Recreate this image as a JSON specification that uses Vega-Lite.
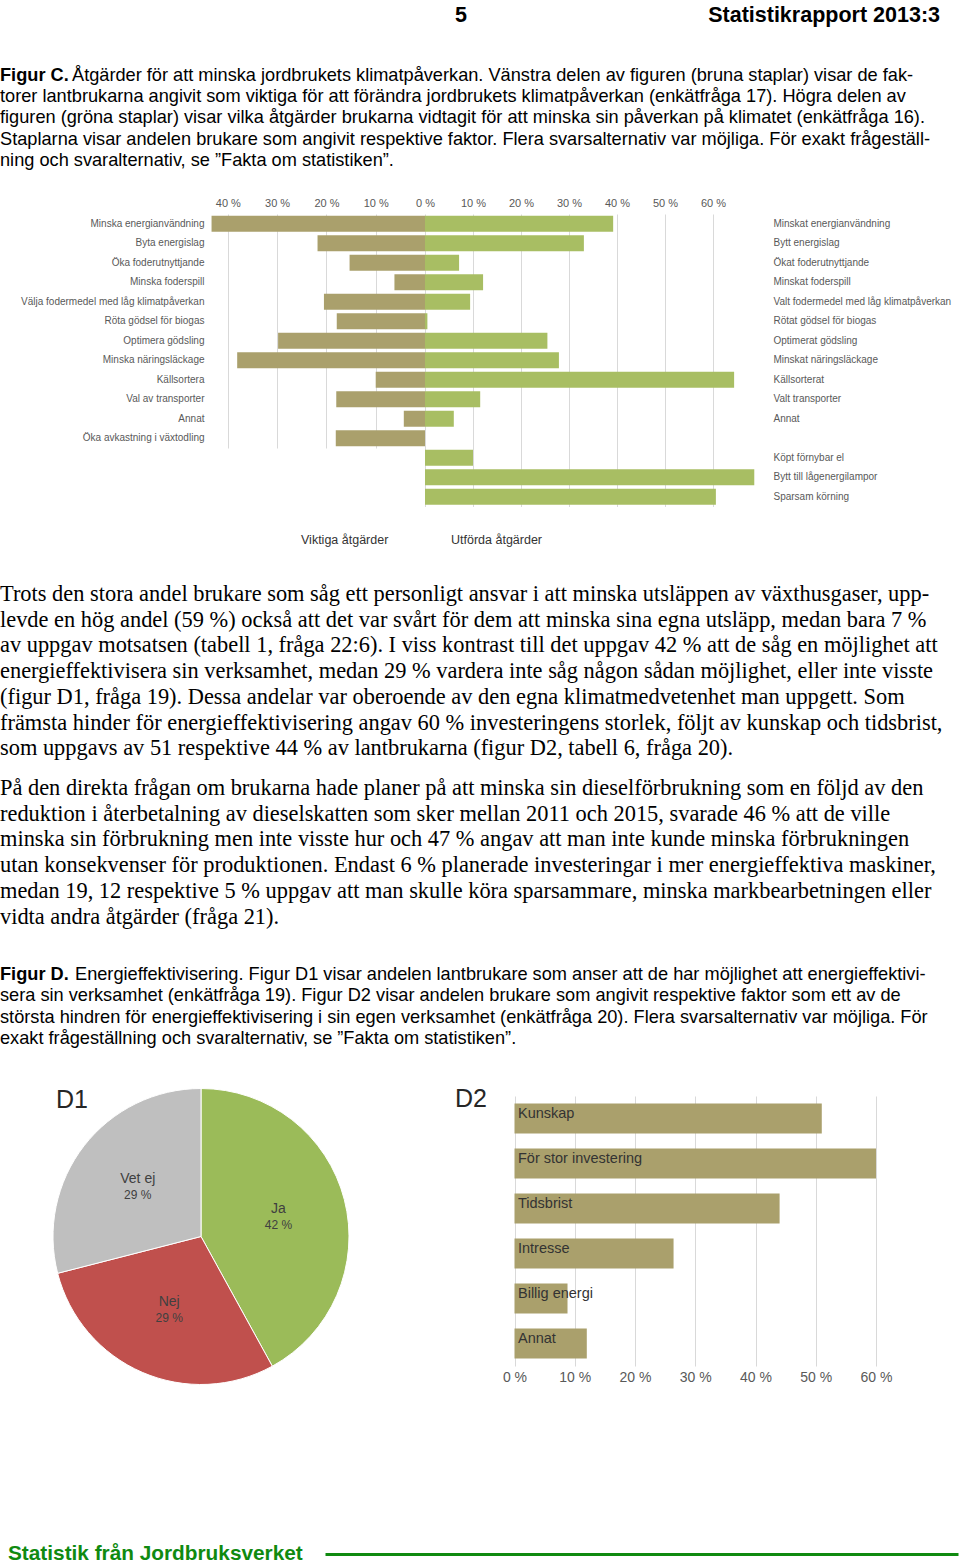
{
  "$schema": "https://vega.github.io/schema/vega-lite/v6.json",
  "background": "white",
  "padding": 0,
  "spacing": 0,
  "bounds": "flush",
  "config": {
    "view": {"stroke": null},
    "font": "Liberation Sans",
    "title": {"orient": "bottom", "anchor": "start", "frame": "bounds", "fontWeight": "normal", "color": "#000000", "font": "Liberation Sans"},
    "axis": {"domain": false, "ticks": false, "tickSize": 0, "gridColor": "#d9d9d9", "labelFont": "Liberation Sans", "labelColor": "#595959"}
  },
  "datasets": {
    "viktiga": [
      {"atgard": "Minska energianvändning", "andel": 43.3},
      {"atgard": "Byta energislag", "andel": 21.8},
      {"atgard": "Öka foderutnyttjande", "andel": 15.3},
      {"atgard": "Minska foderspill", "andel": 6.2},
      {"atgard": "Välja fodermedel med låg klimatpåverkan", "andel": 20.5},
      {"atgard": "Röta gödsel för biogas", "andel": 17.9},
      {"atgard": "Optimera gödsling", "andel": 29.8},
      {"atgard": "Minska näringsläckage", "andel": 38.1},
      {"atgard": "Källsortera", "andel": 10.0},
      {"atgard": "Val av transporter", "andel": 18.0},
      {"atgard": "Annat", "andel": 4.3},
      {"atgard": "Öka avkastning  i växtodling", "andel": 18.1}
    ],
    "utforda": [
      {"atgard": "Minskat energianvändning", "andel": 39.2},
      {"atgard": "Bytt energislag", "andel": 33.1},
      {"atgard": "Ökat foderutnyttjande", "andel": 7.1},
      {"atgard": "Minskat foderspill", "andel": 12.1},
      {"atgard": "Valt fodermedel med låg klimatpåverkan", "andel": 9.4},
      {"atgard": "Rötat gödsel för biogas", "andel": 0.5},
      {"atgard": "Optimerat gödsling", "andel": 25.5},
      {"atgard": "Minskat näringsläckage", "andel": 27.9},
      {"atgard": "Källsorterat", "andel": 64.4},
      {"atgard": "Valt transporter", "andel": 11.5},
      {"atgard": "Annat", "andel": 6.0},
      {"atgard": "Köpt förnybar el", "andel": 10.0},
      {"atgard": "Bytt till lågenergilampor", "andel": 68.6},
      {"atgard": "Sparsam körning", "andel": 60.6}
    ],
    "d1": [
      {"svar": "Ja", "andel": 42, "etikett": "42 %", "ordning": 1},
      {"svar": "Nej", "andel": 29, "etikett": "29 %", "ordning": 2},
      {"svar": "Vet ej", "andel": 29, "etikett": "29 %", "ordning": 3}
    ],
    "d2": [
      {"hinder": "Kunskap", "andel": 51},
      {"hinder": "För stor investering", "andel": 60},
      {"hinder": "Tidsbrist", "andel": 44},
      {"hinder": "Intresse", "andel": 26.4},
      {"hinder": "Billig energi", "andel": 8.8},
      {"hinder": "Annat", "andel": 12.0}
    ]
  },
  "vconcat": [
    {"width": 960, "height": 1, "data": {"values": []}, "mark": "rect",
     "title": {"text": "5", "offset": 4, "dx": 455, "fontWeight": "bold", "fontSize": 21.5}},
    {"width": 960, "height": 1, "data": {"values": []}, "mark": "rect",
     "title": {"text": "Statistikrapport 2013:3", "anchor": "end", "offset": 3, "dx": -20, "fontWeight": "bold", "fontSize": 21.5}},
    {"width": 960, "height": 1, "data": {"values": []}, "mark": "rect",
     "title": {"text": "Figur C.", "offset": 63.7, "fontWeight": "bold", "fontSize": 18.2}},
    {"width": 960, "height": 1, "data": {"values": []}, "mark": "rect",
     "title": {"text": "Åtgärder för att minska jordbrukets klimatpåverkan. Vänstra delen av figuren (bruna staplar) visar de fak-", "offset": 62.7, "dx": 72, "fontSize": 18.2}},
    {"width": 960, "height": 210, "data": {"values": []}, "mark": "rect",
     "title": {"text": [
       "torer lantbrukarna angivit som viktiga för att förändra jordbrukets klimatpåverkan (enkätfråga 17). Högra delen av",
       "figuren (gröna staplar) visar vilka åtgärder brukarna vidtagit för att minska sin påverkan på klimatet (enkätfråga 16).",
       "Staplarna visar andelen brukare som angivit respektive faktor. Flera svarsalternativ var möjliga. För exakt frågeställ-",
       "ning och svaralternativ, se ”Fakta om statistiken”."
     ], "offset": -126, "fontSize": 18.2, "lineHeight": 21.3}},
    {
      "width": 425, "height": 1,
      "data": {"name": "viktiga"},
      "mark": {"type": "bar", "color": "#aaa06c"},
      "encoding": {
        "y": {"field": "atgard", "type": "nominal", "sort": null, "title": null,
              "scale": {"range": [0, 234], "paddingInner": 0.18, "paddingOuter": 0.09},
              "axis": {"orient": "left", "labelFontSize": 10, "labelPadding": -204, "labelAlign": "right", "labelLimit": 300, "labelColor": "#595959"}},
        "x": {"field": "andel", "type": "quantitative", "title": null,
              "scale": {"domain": [0, 44], "range": [425, 208.1], "nice": false},
              "axis": {"orient": "top", "values": [10, 20, 30, 40], "labelExpr": "datum.value + ' %'", "grid": true, "labelFontSize": 11, "labelPadding": 6, "labelDx": 4, "labelFlush": false}}
      }
    },
    {
      "width": 761, "height": 1,
      "data": {"name": "utforda"},
      "mark": {"type": "bar", "color": "#a8be63"},
      "encoding": {
        "y": {"field": "atgard", "type": "nominal", "title": null,
              "scale": {"domain": ["Minskat energianvändning", "Bytt energislag", "Ökat foderutnyttjande", "Minskat foderspill", "Valt fodermedel med låg klimatpåverkan", "Rötat gödsel för biogas", "Optimerat gödsling", "Minskat näringsläckage", "Källsorterat", "Valt transporter", "Annat", " ", "Köpt förnybar el", "Bytt till lågenergilampor", "Sparsam körning"], "range": [-1, 291.5], "paddingInner": 0.18, "paddingOuter": 0.09},
              "axis": {"orient": "right", "labelFontSize": 10, "labelPadding": 12, "labelLimit": 300, "labelColor": "#595959"}},
        "x": {"field": "andel", "type": "quantitative", "title": null,
              "scale": {"domain": [0, 70], "range": [425, 761], "nice": false},
              "axis": {"orient": "top", "offset": 1, "values": [0, 10, 20, 30, 40, 50, 60], "labelExpr": "datum.value + ' %'", "grid": true, "labelFontSize": 11, "labelPadding": 6, "labelDx": 4, "labelFlush": false}}
      }
    },
    {"width": 960, "height": 1, "data": {"values": []}, "mark": "rect",
     "title": {"text": "Viktiga åtgärder", "offset": 316.5, "dx": 301, "fontSize": 12.5, "color": "#333333"}},
    {"width": 960, "height": 1, "data": {"values": []}, "mark": "rect",
     "title": {"text": "Utförda åtgärder", "offset": 315.5, "dx": 451, "fontSize": 12.5, "color": "#333333"}},
    {"width": 960, "height": 1, "data": {"values": []}, "mark": "rect",
     "title": {"text": [
       "Trots den stora andel brukare som såg ett personligt ansvar i att minska utsläppen av växthusgaser, upp-",
       "levde en hög andel (59 %) också att det var svårt för dem att minska sina egna utsläpp, medan bara 7 %",
       "av uppgav motsatsen (tabell 1, fråga 22:6). I viss kontrast till det uppgav 42 % att de såg en möjlighet att",
       "energieffektivisera sin verksamhet, medan 29 % vardera inte såg någon sådan möjlighet, eller inte visste",
       "(figur D1, fråga 19). Dessa andelar var oberoende av den egna klimatmedvetenhet man uppgett. Som",
       "främsta hinder för energieffektivisering angav 60 % investeringens storlek, följt av kunskap och tidsbrist,",
       "som uppgavs av 51 respektive 44 % av lantbrukarna (figur D2, tabell 6, fråga 20)."
     ], "offset": 364, "font": "Liberation Serif", "fontSize": 22.4, "lineHeight": 25.7}},
    {"width": 960, "height": 1, "data": {"values": []}, "mark": "rect",
     "title": {"text": [
       "På den direkta frågan om brukarna hade planer på att minska sin dieselförbrukning som en följd av den",
       "reduktion i återbetalning av dieselskatten som sker mellan 2011 och 2015, svarade 46 % att de ville",
       "minska sin förbrukning men inte visste hur och 47 % angav att man inte kunde minska förbrukningen",
       "utan konsekvenser för produktionen. Endast 6 % planerade investeringar i mer energieffektiva maskiner,",
       "medan 19, 12 respektive 5 % uppgav att man skulle köra sparsammare, minska markbearbetningen eller",
       "vidta andra åtgärder (fråga 21)."
     ], "offset": 557, "font": "Liberation Serif", "fontSize": 22.4, "lineHeight": 25.7}},
    {"width": 960, "height": 1, "data": {"values": []}, "mark": "rect",
     "title": {"text": "Figur D.", "offset": 745, "fontWeight": "bold", "fontSize": 18.2}},
    {"width": 960, "height": 1, "data": {"values": []}, "mark": "rect",
     "title": {"text": "Energieffektivisering. Figur D1 visar andelen lantbrukare som anser att de har möjlighet att energieffektivi-", "offset": 744, "dx": 75, "fontSize": 18.2}},
    {"width": 960, "height": 1, "data": {"values": []}, "mark": "rect",
     "title": {"text": [
       "sera sin verksamhet (enkätfråga 19). Figur D2 visar andelen brukare som angivit respektive faktor som ett av de",
       "största hindren för energieffektivisering i sin egen verksamhet (enkätfråga 20). Flera svarsalternativ var möjliga. För",
       "exakt frågeställning och svaralternativ, se ”Fakta om statistiken”."
     ], "offset": 764.3, "fontSize": 18.2, "lineHeight": 21.3}},
    {"width": 960, "height": 1, "data": {"values": []}, "mark": "rect",
     "title": {"text": "D1", "offset": 864, "dx": 56, "fontSize": 25, "color": "#262626"}},
    {"width": 960, "height": 872, "data": {"values": []}, "mark": "rect",
     "title": {"text": "D2", "offset": -9, "dx": 455, "fontSize": 25, "color": "#262626"}},
    {
      "width": 876, "height": 1,
      "data": {"name": "d2"},
      "layer": [
        {
          "mark": {"type": "bar", "color": "#aaa06c"},
          "encoding": {
            "y": {"field": "hinder", "type": "nominal", "sort": null, "title": null,
                  "scale": {"range": [0, 270], "paddingInner": 0.33, "paddingOuter": 0.165},
                  "axis": {"orient": "left", "labelAlign": "left", "labelPadding": -517.5, "labelOffset": -5, "labelBaseline": "middle", "labelFontSize": 14.5, "labelColor": "#333333", "zindex": 1, "labelLimit": 300}},
            "x": {"field": "andel", "type": "quantitative", "title": null,
                  "scale": {"domain": [0, 60], "range": [514.5, 876], "nice": false},
                  "axis": {"orient": "top", "values": [0, 10, 20, 30, 40, 50, 60], "grid": true, "labels": false}}
          }
        },
        {
          "mark": {"type": "bar", "opacity": 0},
          "encoding": {
            "y": {"field": "hinder", "type": "nominal", "sort": null, "title": null,
                  "axis": {"orient": "left", "labelAlign": "left", "labelPadding": -517.5, "labelOffset": -5, "labelBaseline": "middle", "labelFontSize": 14.5, "labelColor": "#333333", "zindex": 1, "labelLimit": 300}},
            "x": {"field": "andel", "type": "quantitative", "title": null,
                  "axis": {"orient": "bottom", "offset": 269, "values": [0, 10, 20, 30, 40, 50, 60], "labelExpr": "datum.value + ' %'", "grid": false, "labelFontSize": 14, "labelPadding": 4, "labelDx": 6, "labelFlush": false}}
          }
        }
      ],
      "resolve": {"axis": {"x": "independent"}}
    },
    {
      "width": 402, "height": 279,
      "data": {"name": "d1"},
      "encoding": {
        "theta": {"field": "andel", "type": "quantitative", "stack": true},
        "order": {"field": "ordning", "type": "quantitative"}
      },
      "layer": [
        {"mark": {"type": "arc", "outerRadius": 148, "stroke": "#ffffff", "strokeWidth": 1},
         "encoding": {"color": {"field": "svar", "type": "nominal", "legend": null,
           "scale": {"domain": ["Ja", "Nej", "Vet ej"], "range": ["#9bbb59", "#c0504d", "#bfbfbf"]}}}},
        {"mark": {"type": "text", "radius": 80, "dy": -8, "fontSize": 14, "color": "#404040"},
         "encoding": {"text": {"field": "svar"}}},
        {"mark": {"type": "text", "radius": 80, "dy": 8, "fontSize": 12, "color": "#404040"},
         "encoding": {"text": {"field": "etikett"}}}
      ]
    },
    {"width": 960, "height": 176, "data": {"values": []}, "mark": "rect"},
    {"width": 960, "height": 1, "data": {"values": []}, "mark": "rect",
     "title": {"text": "Statistik från Jordbruksverket", "offset": -9, "dx": 8, "fontWeight": "bold", "fontSize": 20.8, "color": "#108a10"}},
    {
      "width": 958, "height": 1,
      "data": {"values": []},
      "mark": "point",
      "encoding": {
        "x": {"field": "v", "type": "quantitative", "title": null,
              "scale": {"domain": [0, 1], "range": [325, 958]},
              "axis": {"orient": "bottom", "domain": true, "domainColor": "#108a10", "domainWidth": 3, "labels": false, "ticks": false, "grid": false}}
      }
    }
  ]
}
